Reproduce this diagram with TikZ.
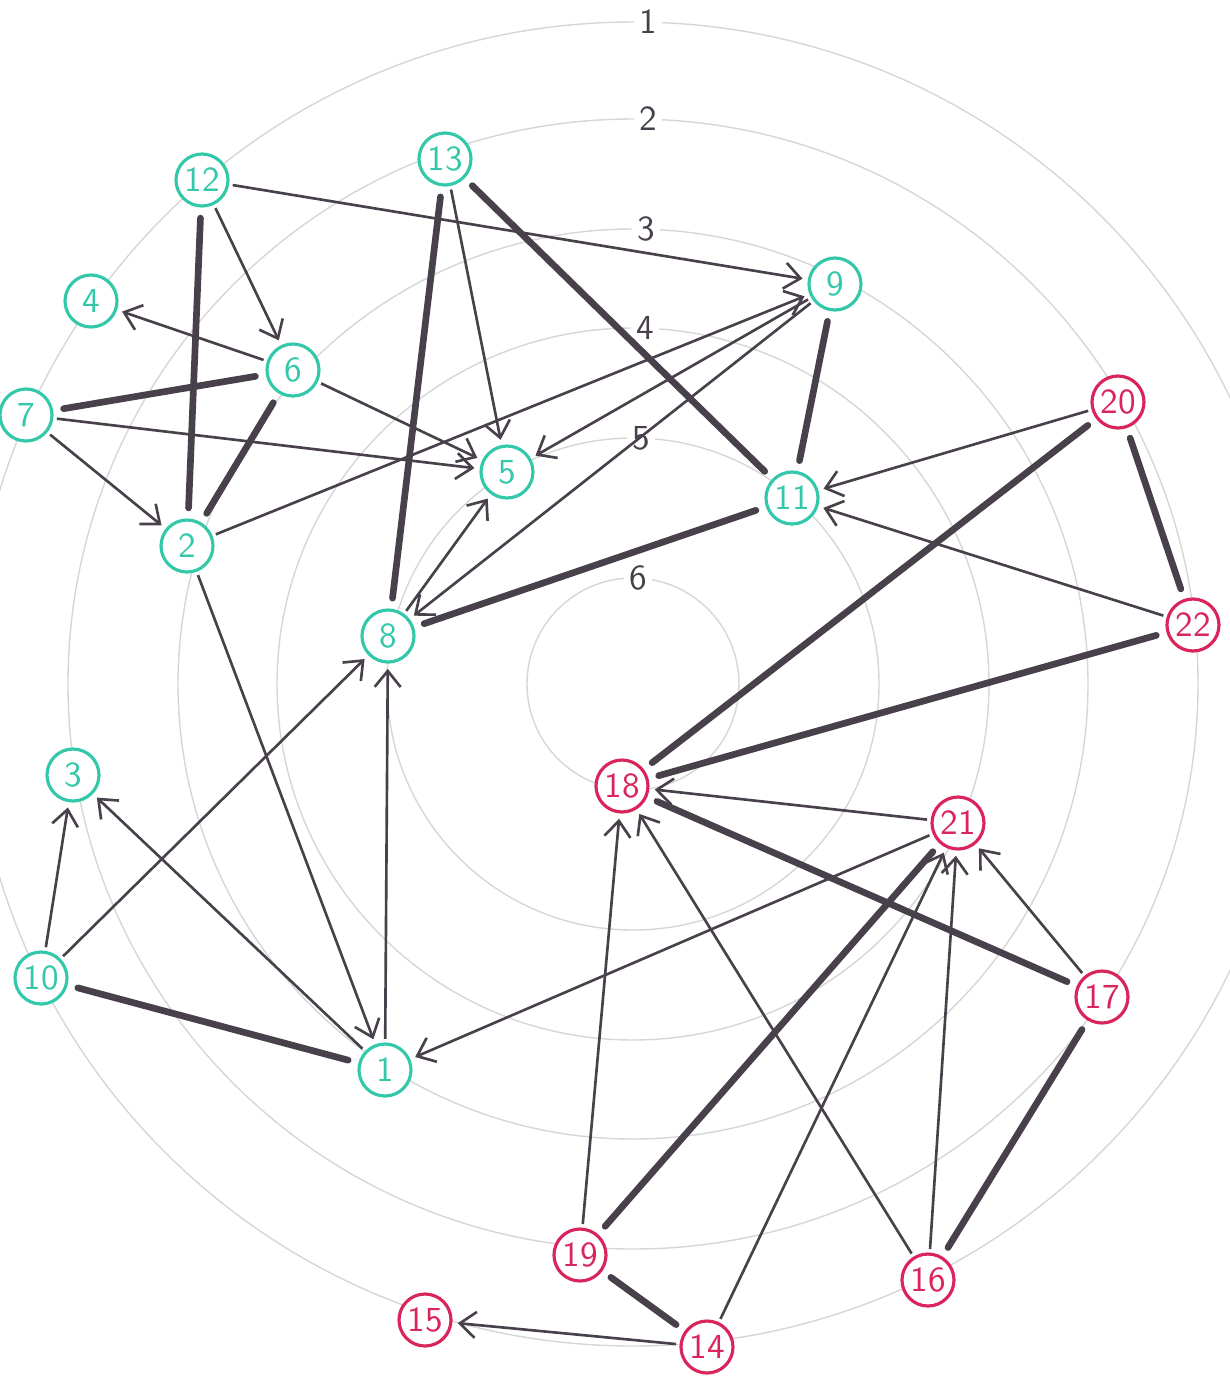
\documentclass[tikz,border=0pt]{standalone}
\usepackage{amsfonts, amssymb,amsmath}
\usepackage{xcolor}
\usepackage{tikz}
\usetikzlibrary{arrows.meta}
\definecolor{nodeteal}{RGB}{52,200,170}
\definecolor{nodered}{RGB}{218,36,92}
\definecolor{edgegray}{RGB}{72,64,74}
\definecolor{ringgray}{RGB}{214,214,214}
\begin{document}
\begin{tikzpicture}[>={Straight Barb[length=1.6mm,width=2.6mm]},
tnode/.style={circle,draw=nodeteal,text=nodeteal,fill=white,line width=0.9pt,minimum size=0.52cm,inner sep=0pt,font=\sffamily\fontsize{10}{12}\selectfont},
rnode/.style={tnode,draw=nodered,text=nodered},
ring/.style={ringgray,line width=0.4pt},
ringlabel/.style={fill=white,inner sep=1.5pt,text=edgegray,font=\sffamily\fontsize{10}{12}\selectfont},
link/.style={->,edgegray,line width=0.75pt,shorten >=1.5pt,shorten <=1pt},
bond/.style={edgegray,line width=1.9pt,line cap=round,shorten >=3pt,shorten <=3pt}]
\useasboundingbox(0,0)rectangle(12.3,-13.76);
\coordinate(c)at(6.33,-6.84);
\draw[ring](c)circle[radius=6.62];
\draw[ring](c)circle[radius=5.65];
\draw[ring](c)circle[radius=4.55];
\draw[ring](c)circle[radius=3.56];
\draw[ring](c)circle[radius=2.46];
\draw[ring](c)circle[radius=1.06];
\path(c)++(0.15,6.62)node[ringlabel](r1){1};
\path(c)++(0.15,5.65)node[ringlabel](r2){2};
\path(c)++(0.13,4.55)node[ringlabel](r3){3};
\path(c)++(0.12,3.56)node[ringlabel](r4){4};
\path(c)++(0.08,2.46)node[ringlabel](r5){5};
\path(c)++(0.05,1.06)node[ringlabel](r6){6};

\node[tnode](n1)at(3.85,-10.70){1};
\node[tnode](n2)at(1.87,-5.46){2};
\node[tnode](n3)at(0.73,-7.75){3};
\node[tnode](n4)at(0.91,-3.01){4};
\node[tnode](n5)at(5.07,-4.72){5};
\node[tnode](n6)at(2.93,-3.70){6};
\node[tnode](n7)at(0.26,-4.15){7};
\node[tnode](n8)at(3.88,-6.36){8};
\node[tnode](n9)at(8.35,-2.84){9};
\node[tnode](n10)at(0.41,-9.78){10};
\node[tnode](n11)at(7.92,-4.98){11};
\node[tnode](n12)at(2.02,-1.80){12};
\node[tnode](n13)at(4.45,-1.59){13};
\node[rnode](n14)at(7.07,-13.47){14};
\node[rnode](n15)at(4.25,-13.20){15};
\node[rnode](n16)at(9.28,-12.80){16};
\node[rnode](n17)at(11.02,-9.97){17};
\node[rnode](n18)at(6.22,-7.86){18};
\node[rnode](n19)at(5.80,-12.55){19};
\node[rnode](n20)at(11.18,-4.02){20};
\node[rnode](n21)at(9.58,-8.23){21};
\node[rnode](n22)at(11.93,-6.25){22};

\draw[bond](n12)--(n2);
\draw[bond](n7)--(n6);
\draw[bond](n6)--(n2);
\draw[bond](n13)--(n8);
\draw[bond](n13)--(n11);
\draw[bond](n9)--(n11);
\draw[bond](n8)--(n11);
\draw[bond](n10)--(n1);
\draw[bond](n20)--(n18);
\draw[bond](n22)--(n18);
\draw[bond](n20)--(n22);
\draw[bond](n17)--(n18);
\draw[bond](n19)--(n21);
\draw[bond](n17)--(n16);
\draw[bond](n19)--(n14);

\draw[link](n12)--(n9);
\draw[link](n12)--(n6);
\draw[link](n6)--(n4);
\draw[link](n6)--(n5);
\draw[link](n7)--(n5);
\draw[link](n7)--(n2);
\draw[link](n2)--(n9);
\draw[link](n2)--(n1);
\draw[link](n13)--(n5);
\draw[link](n9)--(n5);
\draw[link](n9)--(n8);
\draw[link](n8)--(n5);
\draw[link](n1)--(n8);
\draw[link](n10)--(n8);
\draw[link](n10)--(n3);
\draw[link](n1)--(n3);
\draw[link](n20)--(n11);
\draw[link](n22)--(n11);
\draw[link](n21)--(n1);
\draw[link](n21)--(n18);
\draw[link](n19)--(n18);
\draw[link](n16)--(n18);
\draw[link](n16)--(n21);
\draw[link](n14)--(n21);
\draw[link](n17)--(n21);
\draw[link](n14)--(n15);
\end{tikzpicture}
\end{document}
